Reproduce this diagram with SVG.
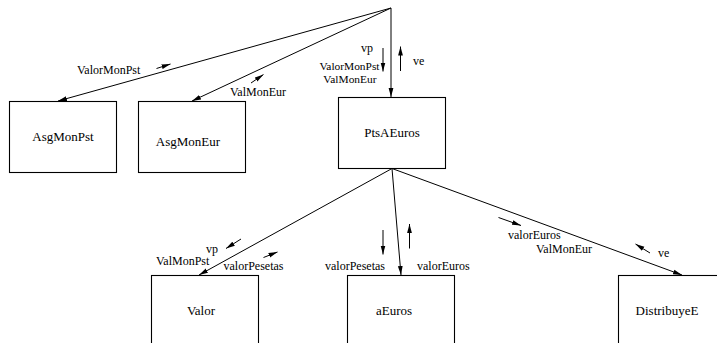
<svg xmlns="http://www.w3.org/2000/svg" width="717" height="343" viewBox="0 0 717 343">
<defs>
<marker id="ah" markerUnits="userSpaceOnUse" markerWidth="9" markerHeight="6" refX="9" refY="3" orient="auto">
<path d="M0,0.6 L9,3 L0,5.4 z" fill="#000"/>
</marker>
<style>
.n rect{fill:#fff;stroke:#000;stroke-width:1.1}
.n text{font-family:"Liberation Serif","Times New Roman",serif;font-size:13px;fill:#000;text-anchor:middle}
.e line{stroke:#000;stroke-width:1;marker-end:url(#ah)}
.l text{font-family:"Liberation Serif","Times New Roman",serif;font-size:12px;fill:#000}
.l text.s{font-size:11.4px}
</style>
</defs>
<rect width="717" height="343" fill="#fff"/>
<g id="AsgMonPst" class="n"><rect x="9.5" y="101.5" width="107" height="71"/><text x="63" y="141">AsgMonPst</text></g>
<g id="AsgMonEur" class="n"><rect x="138.5" y="101.5" width="107" height="71"/><text x="188" y="146">AsgMonEur</text></g>
<g id="PtsAEuros" class="n"><rect x="338.5" y="97.5" width="107" height="71"/><text x="392" y="137">PtsAEuros</text></g>
<g id="Valor" class="n"><rect x="151.5" y="275.5" width="107" height="80"/><text x="201" y="315">Valor</text></g>
<g id="aEuros" class="n"><rect x="347.5" y="275.5" width="107" height="80"/><text x="394" y="315">aEuros</text></g>
<g id="DistribuyeE" class="n"><rect x="618.5" y="275.5" width="107" height="80"/><text x="667" y="315">DistribuyeE</text></g>
<g id="connectors" class="e">
<line x1="391" y1="8" x2="58" y2="101"/>
<line x1="391" y1="8" x2="192" y2="101"/>
<line x1="391" y1="8" x2="391" y2="97"/>
<line x1="392" y1="168.5" x2="199" y2="275"/>
<line x1="392" y1="168.5" x2="401" y2="275"/>
<line x1="392" y1="168.5" x2="682" y2="275"/>
<line x1="156.5" y1="68.5" x2="170.5" y2="64"/>
<line x1="251" y1="83" x2="263.5" y2="74.5"/>
<line x1="383" y1="48" x2="383" y2="71.5"/>
<line x1="400.5" y1="71" x2="400.5" y2="46.5"/>
<line x1="241" y1="239" x2="226" y2="248.5"/>
<line x1="263.5" y1="257.5" x2="277.5" y2="252"/>
<line x1="383" y1="230" x2="383" y2="254.5"/>
<line x1="409.5" y1="248.5" x2="409.5" y2="224"/>
<line x1="498.5" y1="217.5" x2="521" y2="225.5"/>
<line x1="650" y1="253" x2="635.5" y2="244"/>
</g>
<g id="labels" class="l">
<text x="77" y="74">ValorMonPst</text>
<text x="230" y="95.5">ValMonEur</text>
<text x="361" y="52">vp</text>
<text class="s" x="379.5" y="70" text-anchor="end">ValorMonPst</text>
<text class="s" x="376.5" y="82.5" text-anchor="end">ValMonEur</text>
<text x="413" y="65">ve</text>
<text x="206" y="253">vp</text>
<text x="156" y="264.5">ValMonPst</text>
<text x="223.5" y="270">valorPesetas</text>
<text x="325" y="270">valorPesetas</text>
<text x="417" y="270">valorEuros</text>
<text x="508" y="238.5">valorEuros</text>
<text x="536" y="252.5">ValMonEur</text>
<text x="658" y="257">ve</text>
</g>
</svg>
